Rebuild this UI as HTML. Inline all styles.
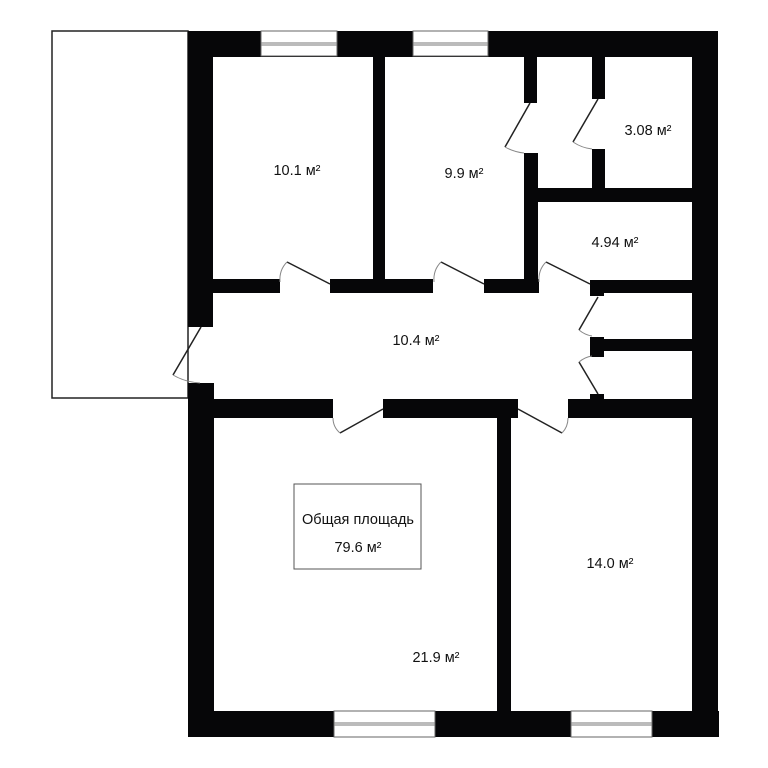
<!DOCTYPE html>
<html><head><meta charset="utf-8"><style>
html,body{margin:0;padding:0;background:#fff;}
svg{display:block;}
text{font-family:"Liberation Sans",sans-serif;font-size:14.5px;fill:#111;}
</style></head><body>
<svg width="768" height="768" viewBox="0 0 768 768" xmlns="http://www.w3.org/2000/svg">
<rect width="768" height="768" fill="#fff"/>
<rect x="52" y="31" width="136" height="367" fill="#fff" stroke="#222" stroke-width="1.5"/>
<g fill="#060608">
<rect x="188" y="31" width="530" height="26"/>
<rect x="188" y="31" width="25" height="296"/>
<rect x="188" y="383" width="26" height="354"/>
<rect x="188" y="711" width="531" height="26"/>
<rect x="692" y="31" width="26" height="706"/>
<rect x="373" y="57" width="12" height="230"/>
<rect x="524" y="57" width="13" height="46"/>
<rect x="524" y="153" width="14" height="140"/>
<rect x="592" y="57" width="13" height="42"/>
<rect x="592" y="149" width="13" height="45"/>
<rect x="537" y="188" width="156" height="14"/>
<rect x="212" y="279" width="68" height="14"/>
<rect x="330" y="279" width="103" height="14"/>
<rect x="484" y="279" width="55" height="14"/>
<rect x="590" y="280" width="103" height="13"/>
<rect x="590" y="280" width="14" height="16"/>
<rect x="590" y="337" width="14" height="20"/>
<rect x="604" y="339" width="89" height="12"/>
<rect x="590" y="394" width="14" height="6"/>
<rect x="212" y="399" width="121" height="19"/>
<rect x="383" y="399" width="135" height="19"/>
<rect x="568" y="399" width="125" height="19"/>
<rect x="497" y="418" width="14" height="293"/>
</g>
<g fill="#fff" stroke="#666" stroke-width="1">
<rect x="261" y="31" width="76" height="25"/>
<rect x="413" y="31" width="75" height="25"/>
<rect x="334" y="711" width="101" height="26"/>
<rect x="571" y="711" width="81" height="26"/>
</g>
<g stroke="#777" stroke-width="1" fill="none">
<line x1="261" y1="43" x2="337" y2="43"/><line x1="261" y1="45" x2="337" y2="45"/>
<line x1="413" y1="43" x2="488" y2="43"/><line x1="413" y1="45" x2="488" y2="45"/>
<line x1="334" y1="723" x2="435" y2="723"/><line x1="334" y1="725" x2="435" y2="725"/>
<line x1="571" y1="723" x2="652" y2="723"/><line x1="571" y1="725" x2="652" y2="725"/>
</g>
<g stroke="#222" stroke-width="1.5" fill="none">
<line x1="330" y1="284" x2="287" y2="262"/>
<line x1="484" y1="284" x2="441" y2="262"/>
<line x1="590" y1="284" x2="546" y2="262"/>
<line x1="530" y1="103" x2="505" y2="147"/>
<line x1="598" y1="99" x2="573" y2="142"/>
<line x1="598" y1="297" x2="579" y2="330"/>
<line x1="598" y1="394" x2="579" y2="362"/>
<line x1="201" y1="327" x2="173" y2="375"/>
<line x1="383" y1="409" x2="340" y2="433"/>
<line x1="518" y1="409" x2="562" y2="433"/>
</g>
<g stroke="#888" stroke-width="1" fill="none">
<path d="M287,262 Q279,270 280,282"/>
<path d="M441,262 Q433,270 434,282"/>
<path d="M546,262 Q538,270 539,282"/>
<path d="M505,147 Q514,152 524,153"/>
<path d="M573,142 Q582,148 592,149"/>
<path d="M579,330 Q585,335 592,336"/>
<path d="M579,362 Q585,357 592,356"/>
<path d="M173,375 Q185,382 200,383"/>
<path d="M340,433 Q333,427 333,418"/>
<path d="M562,433 Q568,427 568,418"/>
</g>
<rect x="294" y="484" width="127" height="85" fill="none" stroke="#555" stroke-width="1"/>
<g text-anchor="middle">
<text x="358" y="524">Общая площадь</text>
<text x="358" y="552">79.6 м²</text>
<text x="297" y="175">10.1 м²</text>
<text x="464" y="178">9.9 м²</text>
<text x="648" y="135">3.08 м²</text>
<text x="615" y="247">4.94 м²</text>
<text x="416" y="345">10.4 м²</text>
<text x="610" y="568">14.0 м²</text>
<text x="436" y="662">21.9 м²</text>
</g>
</svg>
</body></html>
